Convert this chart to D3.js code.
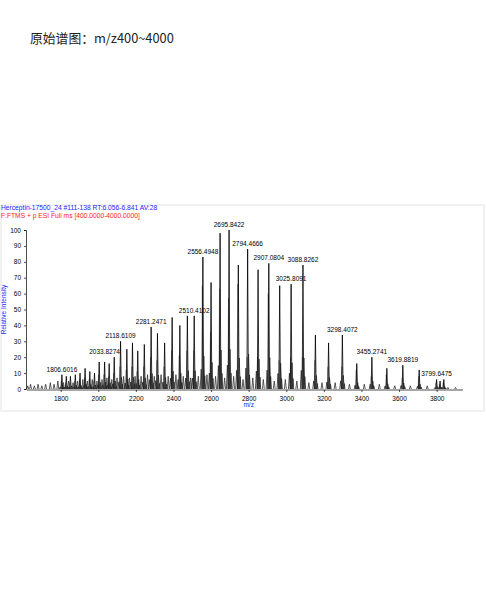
<!DOCTYPE html>
<html><head><meta charset="utf-8">
<script src="https://cdn.jsdelivr.net/npm/d3@7"></script>
<style>body{margin:0;background:#fff;font-family:Arial,"Liberation Sans",sans-serif}</style>
</head><body><svg id="c" width="486" height="616"></svg>
<script>
// main charge-state peaks (m/z, relative intensity)
var peakMz = [1806.6,1830,1852,1878,1903,1930,1955,1980,2005,2033.8,2058,2085,2118.6,2152,2182,2210,2245,2281.2,2315,2353,2393,2434,2474,2510.4,2556.5,2600,2648,2695.8,2745,2794.5,2850,2907.1,2965,3025.8,3088.8,3155,3225,3298.4,3375,3455.3,3535,3619.9,3707,3799.6,3818,3838];
var peakInt = [9,8,8,9,10,13,11,10,17,17,16,20,30,25,29,24,28,39,35,29,45,40,46,46,83,67,98,100,78,88,75,79,65,66,78,34,29,34,16,20,13,15,12,6,5,6];
// shoulder intensities (grey, slightly lower m/z side)
var shoulderInt = [5,4,4,5,6,7,6,5,9,9,8,10,14,12,14,11,14,20,18,14,24,21,24,24,65,36,63,57,66,20,20,60,18,20,20,18,14,14,12,8,9,7,8,4,3,4];
var labelMz = [1806.6016,2033.8274,2118.6109,2281.2471,2510.4102,2556.4948,2695.8422,2794.4666,2907.0804,3025.8091,3088.8262,3298.4072,3455.2741,3619.8819,3799.6475];
var labelInt = [9,20,30,39,46,83,100,88,79,66,78,34,20,15,6];
var xTicks = [1800,2000,2200,2400,2600,2800,3000,3200,3400,3600,3800];
var yTicks = [0,10,20,30,40,50,60,70,80,90,100];
// low-level baseline noise
var noiseMz = [1625,1640,1660,1680,1700,1720,1745,1765,1785,1815,1842,1866,1890,1918,1942,1968,1993,2020,2046,2072,2100,2135,2166,2196,2228,2262,2298,2334,2372,2413,2452,2492,2532,2578,2624,2672,2720,2770,2822,2878,2936,2995,3056,3120,3190,3260,3336,3415,3495,3577,3660,3750,3860,3900];
var noiseInt = [2,3,2,3,2,3,4,3,5,4,5,4,5,6,5,6,5,6,7,6,7,8,7,8,8,9,8,9,8,9,8,7,8,9,8,7,8,6,7,6,5,6,5,4,4,4,3,3,3,2,2,2,1,1];

var svg = d3.select("#c");
var m = {l:27, r:463, t:230, b:389};
var x = d3.scaleLinear().domain([1621,3940]).range([m.l,m.r]);
var y = d3.scaleLinear().domain([0,100]).range([m.b,m.t]);

svg.append("text").attr("x",30).attr("y",43).attr("font-size",12.8).attr("fill","#222")
  .attr("font-family","'Noto Sans CJK SC',sans-serif").text("原始谱图：m/z400~4000");

svg.append("rect").attr("x",1).attr("y",205).attr("width",483).attr("height",206)
  .attr("fill","none").attr("stroke","#e4e4e4");

svg.append("text").attr("x",1).attr("y",210).attr("font-size",6.7).attr("fill","#1a1aff")
  .text("Herceptin-17500_24 #111-138 RT:6.056-6.841 AV:28");
svg.append("text").attr("x",1).attr("y",218).attr("font-size",6.7).attr("fill","#ff2020")
  .text("F:FTMS + p ESI Full ms [400.0000-4000.0000]");

var g = svg.append("g");
function spike(mz, h, w, col){
  g.append("path").attr("d", "M"+x(mz-w)+","+y(0)+"L"+x(mz)+","+y(h)+"L"+x(mz+w)+","+y(0))
    .attr("fill","none").attr("stroke",col).attr("stroke-width",0.8);
}
noiseMz.forEach(function(d,i){ spike(d, noiseInt[i], 5, "#333"); });
peakMz.forEach(function(d,i){
  spike(d-3, shoulderInt[i], 3, "#888");
  spike(d, peakInt[i], 4, "#000");
  spike(d+5, peakInt[i]*0.25, 5, "#222");
  spike(d+10, peakInt[i]*0.1, 4, "#222");
  spike(d-9, peakInt[i]*0.15, 5, "#222");
});

var ax = svg.append("g").attr("transform","translate(0,"+(m.b+1)+")")
  .call(d3.axisBottom(x).tickValues(xTicks).tickSize(2).tickFormat(d3.format("d")));
var ay = svg.append("g").attr("transform","translate("+(m.l-1)+",0)")
  .call(d3.axisLeft(y).tickValues(yTicks).tickSize(2));
[ax,ay].forEach(function(a){
  a.selectAll("text").attr("font-size",6.5).attr("fill","#000");
  a.selectAll("line,path").attr("stroke","#000").attr("stroke-width",0.7);
});
ax.select(".domain").attr("d","M"+m.l+",0H"+m.r);
ax.selectAll(".tick text").attr("dy","0.9em");

labelMz.forEach(function(d,i){
  svg.append("text").attr("x",x(d)).attr("y",y(labelInt[i])-3).attr("text-anchor","middle")
    .attr("font-size",6.5).attr("fill","#000").text(d.toFixed(4));
});

svg.append("text").attr("x",x(2800)).attr("y",407).attr("text-anchor","middle")
  .attr("font-size",6.5).attr("fill","#1a1aff").text("m/z");
svg.append("text").attr("transform","translate(6,"+((m.t+m.b)/2)+") rotate(-90)")
  .attr("text-anchor","middle").attr("font-size",6.5).attr("fill","#1a1aff").text("Relative Intensity");
</script></body></html>
